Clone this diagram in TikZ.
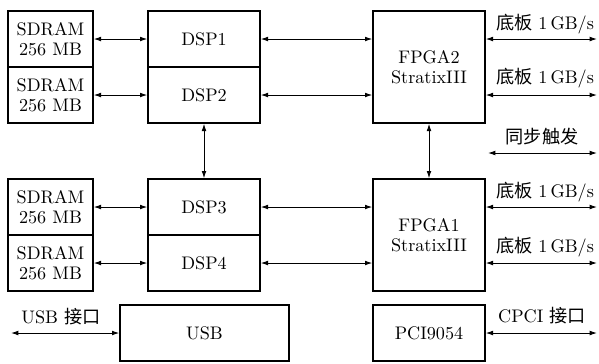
\documentclass[tikz,border=0pt]{standalone}
\usepackage{fontspec}
\newfontfamily\cjk{Noto Sans CJK SC}
\usetikzlibrary{arrows.meta}
\begin{document}
\begin{tikzpicture}[x=0.55pt,y=-0.55pt,
  box/.style={draw,line width=0.8pt,inner sep=0pt,align=center,font=\fontsize{10}{11}\selectfont},
  lbl/.style={inner sep=0pt,font=\fontsize{10}{11}\selectfont},
  link/.style={{Latex[length=4pt,width=2.6pt]}-{Latex[length=4pt,width=2.6pt]},line width=0.5pt}]
\useasboundingbox (0,0) rectangle (599,363);
% top group
\node[box,minimum width=85*0.55pt,minimum height=56*0.55pt] (sd1) at (50.5,39) {SDRAM\\256 MB};
\node[box,minimum width=85*0.55pt,minimum height=56*0.55pt] (sd2) at (50.5,95) {SDRAM\\256 MB};
\node[box,minimum width=112*0.55pt,minimum height=56*0.55pt] (dsp1) at (204,39) {DSP1};
\node[box,minimum width=112*0.55pt,minimum height=56*0.55pt] (dsp2) at (204,95) {DSP2};
\node[box,minimum width=112*0.55pt,minimum height=112*0.55pt] (fpga2) at (429,67) {FPGA2\\StratixIII};
% bottom group
\node[box,minimum width=85*0.55pt,minimum height=56*0.55pt] (sd3) at (50.5,207) {SDRAM\\256 MB};
\node[box,minimum width=85*0.55pt,minimum height=56*0.55pt] (sd4) at (50.5,263) {SDRAM\\256 MB};
\node[box,minimum width=112*0.55pt,minimum height=56*0.55pt] (dsp3) at (204,207) {DSP3};
\node[box,minimum width=112*0.55pt,minimum height=56*0.55pt] (dsp4) at (204,263) {DSP4};
\node[box,minimum width=112*0.55pt,minimum height=112*0.55pt] (fpga1) at (429,235) {FPGA1\\StratixIII};
% interfaces
\node[box,minimum width=169*0.55pt,minimum height=56*0.55pt] (usb) at (204.5,333) {USB};
\node[box,minimum width=112*0.55pt,minimum height=56*0.55pt] (pci) at (429,333) {PCI9054};
% free ends
\coordinate (r1) at (597,39);
\coordinate (r2) at (597,95);
\coordinate (r3) at (597,207);
\coordinate (r4) at (597,263);
\coordinate (s1) at (488,153);
\coordinate (s2) at (597,153);
\coordinate (u1) at (11,333);
\coordinate (p1) at (597,333);
% connectors
\draw[link] (sd1.east) -- (dsp1.west);
\draw[link] (sd2.east) -- (dsp2.west);
\draw[link] (sd3.east) -- (dsp3.west);
\draw[link] (sd4.east) -- (dsp4.west);
\draw[link] (dsp1.east) -- (dsp1.east -| fpga2.west);
\draw[link] (dsp2.east) -- (dsp2.east -| fpga2.west);
\draw[link] (dsp3.east) -- (dsp3.east -| fpga1.west);
\draw[link] (dsp4.east) -- (dsp4.east -| fpga1.west);
\draw[link] (r1 -| fpga2.east) -- (r1);
\draw[link] (r2 -| fpga2.east) -- (r2);
\draw[link] (r3 -| fpga1.east) -- (r3);
\draw[link] (r4 -| fpga1.east) -- (r4);
\draw[link] (dsp2.south) -- (dsp3.north);
\draw[link] (fpga2.south) -- (fpga1.north);
\draw[link] (s1) -- (s2);
\draw[link] (u1) -- (usb.west);
\draw[link] (pci.east) -- (p1);
% labels
\node[lbl] (l1) at (545,24) {{\cjk 底板} 1\,GB/s};
\node[lbl] (l2) at (545,78) {{\cjk 底板} 1\,GB/s};
\node[lbl] (l3) at (545,192) {{\cjk 底板} 1\,GB/s};
\node[lbl] (l4) at (545,247) {{\cjk 底板} 1\,GB/s};
\node[lbl] (l5) at (542,137) {\cjk 同步触发};
\node[lbl] (l6) at (61,317) {USB {\cjk 接口}};
\node[lbl] (l7) at (542,316) {CPCI {\cjk 接口}};
\end{tikzpicture}
\end{document}
